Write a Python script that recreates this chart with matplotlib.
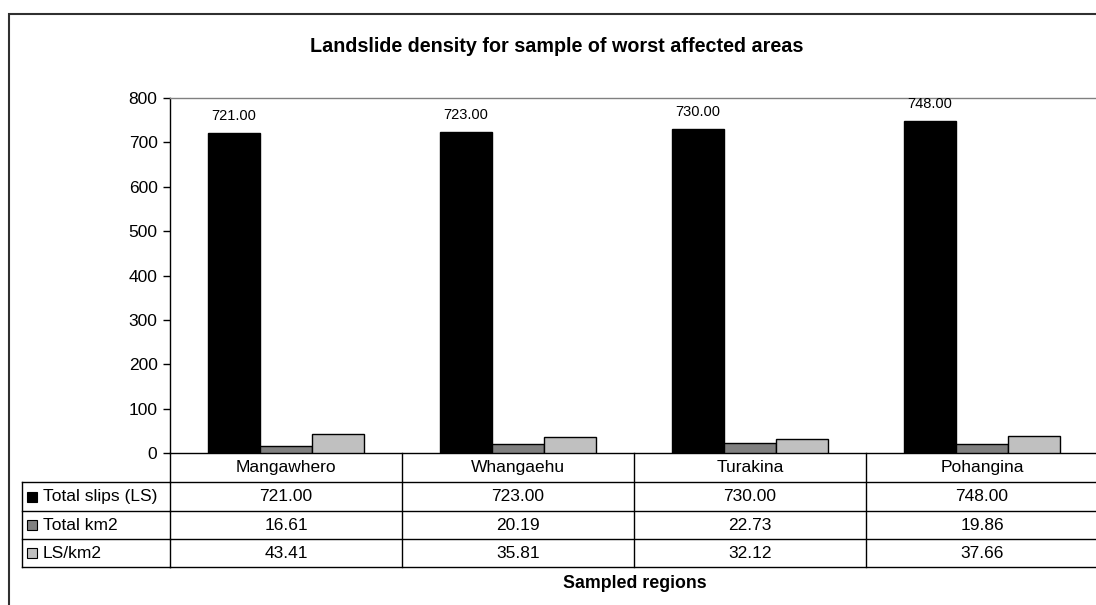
import matplotlib
matplotlib.use("Agg")
import matplotlib.pyplot as plt
import matplotlib.transforms as mtransforms
from matplotlib.patches import Rectangle
import numpy as np

plt.rcParams['font.family'] = ['Liberation Sans', 'DejaVu Sans']

categories = ["Mangawhero", "Whangaehu", "Turakina", "Pohangina"]
series_names = ["Total slips (LS)", "Total km2", "LS/km2"]
total_slips = [721.00, 723.00, 730.00, 748.00]
total_km2 = [16.61, 20.19, 22.73, 19.86]
ls_per_km2 = [43.41, 35.81, 32.12, 37.66]
series_colors = ["#000000", "#808080", "#C0C0C0"]
yticks = [0, 100, 200, 300, 400, 500, 600, 700, 800]
title = "Landslide density for sample of worst affected areas"
xlabel = "Sampled regions"

W, H = 1096, 605
fig = plt.figure(figsize=(W / 100, H / 100), dpi=100)

def fx(px):
    return px / W

def fy(py):
    return 1 - py / H

# outer frame
fig.patches.append(Rectangle((fx(9), fy(H + 20)), fx(W + 20) - fx(9), fy(14) - fy(H + 20),
                             transform=fig.transFigure, fill=False,
                             edgecolor="#303030", lw=1.5))

ax_l, ax_r, ax_t, ax_b = 170, 1098, 98, 453
ax = fig.add_axes([fx(ax_l), fy(ax_b), fx(ax_r) - fx(ax_l), fy(ax_t) - fy(ax_b)])

x = np.arange(len(categories))
bw = 0.224
all_series = [total_slips, total_km2, ls_per_km2]
for k, (vals, col) in enumerate(zip(all_series, series_colors)):
    ax.bar(x + (k - 1) * bw, vals, width=bw, color=col, edgecolor="black", linewidth=1.0, zorder=3)

for i, v in enumerate(total_slips):
    ax.annotate(f"{v:.2f}", (x[i] - bw, v), xytext=(0, 7), textcoords="offset points",
                ha="center", va="bottom", fontsize=10.5)

ax.set_xlim(-0.5, len(categories) - 0.5)
ax.set_ylim(0, 800)
ax.set_yticks(yticks)
ax.set_yticklabels([str(t) for t in yticks], fontsize=12.5)
ax.set_xticks([])
ax.tick_params(axis="y", direction="out", length=5, width=1, pad=4)
for s in ["top", "right"]:
    ax.spines[s].set_color("#808080")
    ax.spines[s].set_linewidth(1.0)
ax.spines["left"].set_linewidth(1.0)
ax.spines["bottom"].set_linewidth(1.0)

# table below axes
Hax = ax_b - ax_t
def ay(py):
    return (ax_b - py) / Hax

trans = mtransforms.blended_transform_factory(ax.transData, ax.transAxes)
row_edges = [453, 482, 511, 539, 567]
n = len(categories)

for yy in row_edges[1:]:
    ax.plot([-0.5, n - 0.5], [ay(yy), ay(yy)], transform=trans, color="black", lw=1.0, clip_on=False)
for i in range(n + 1):
    ax.plot([i - 0.5, i - 0.5], [ay(row_edges[0]), ay(row_edges[-1])], transform=trans,
            color="black", lw=1.0, clip_on=False)

for i, c in enumerate(categories):
    ax.text(x[i], ay((row_edges[0] + row_edges[1]) / 2), c, transform=trans,
            ha="center", va="center", fontsize=12.5)
for r, vals in enumerate(all_series):
    yc = ay((row_edges[r + 1] + row_edges[r + 2]) / 2)
    for i, v in enumerate(vals):
        ax.text(x[i], yc, f"{v:.2f}", transform=trans, ha="center", va="center", fontsize=12.5)

# legend column box
tl = 22
ftr = fig.transFigure
for yy in row_edges[1:]:
    fig.add_artist(plt.Line2D([fx(tl), fx(ax_l)], [fy(yy), fy(yy)], transform=ftr, color="black", lw=1.0))
fig.add_artist(plt.Line2D([fx(tl), fx(tl)], [fy(row_edges[1]), fy(row_edges[-1])], transform=ftr, color="black", lw=1.0))
for r, (name, col) in enumerate(zip(series_names, series_colors)):
    yc = (row_edges[r + 1] + row_edges[r + 2]) / 2
    sq = 10
    fig.patches.append(Rectangle((fx(27), fy(yc + sq / 2)), fx(sq), sq / H, transform=ftr,
                                 facecolor=col, edgecolor="black", lw=0.8))
    fig.text(fx(43), fy(yc), name, ha="left", va="center", fontsize=12.5)

fig.text(fx(557), fy(47), title, ha="center", va="center", fontsize=14.2, fontweight="bold")
fig.text(fx(635), fy(584), xlabel, ha="center", va="center", fontsize=12.8, fontweight="bold")

fig.savefig("out.png", dpi=100)
